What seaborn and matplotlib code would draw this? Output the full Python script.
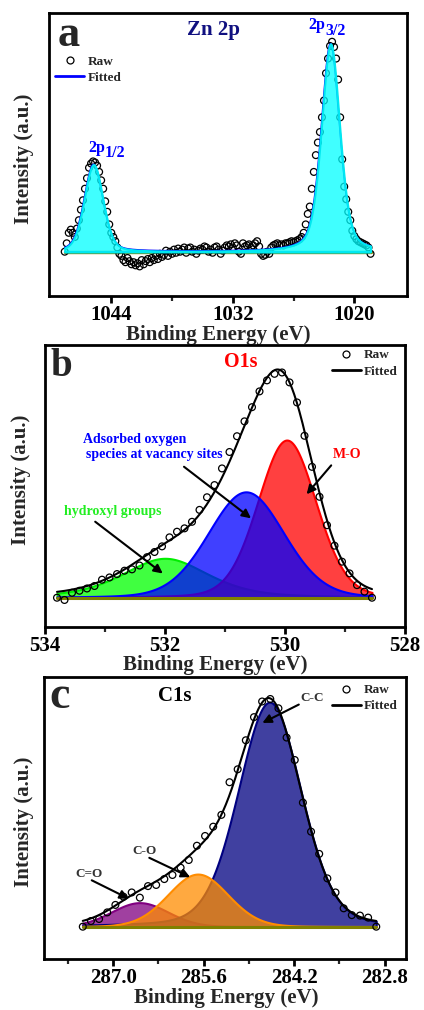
import numpy as np
import matplotlib
matplotlib.use("Agg")
import matplotlib.pyplot as plt
import seaborn as sns
from matplotlib.lines import Line2D

# ---------------- data ----------------
# Panel a : Zn 2p  (raw energies on a 0.2 eV grid, 1048.6 -> 1018.4 eV)
zn_raw_range = (1048.6, 1018.4)
zn_raw_y = [
    0.00, 0.04, 0.09, 0.105, 0.09, 0.07, 0.11, 0.15, 0.20, 0.245,
    0.30, 0.35, 0.40, 0.42, 0.43, 0.425, 0.41, 0.38, 0.34, 0.30,
    0.24, 0.19, 0.13, 0.09, 0.07, 0.05, 0.02, -0.01, -0.02, -0.04,
    -0.05, -0.03, -0.045, -0.06, -0.05, -0.065, -0.055, -0.07, -0.04, -0.06,
    -0.045, -0.035, -0.05, -0.03, -0.04, -0.02, -0.035, -0.01, -0.025, -0.015,
    0.005, -0.02, 0.00, -0.01, 0.01, -0.005, 0.015, 0.00, 0.01, 0.02,
    -0.005, 0.015, 0.02, 0.00, 0.01, -0.01, 0.005, 0.015, 0.01, 0.025,
    0.02, 0.00, 0.01, -0.005, 0.02, 0.025, 0.01, -0.01, 0.005, 0.02,
    0.03, 0.025, 0.035, 0.02, 0.04, 0.03, 0.00, -0.01, 0.04, 0.025,
    0.03, 0.035, 0.02, 0.03, 0.04, 0.05, 0.025, -0.01, -0.02, -0.015,
    0.00, -0.01, 0.02, 0.03, 0.035, 0.04, 0.03, 0.035, 0.03, 0.04,
    0.04, 0.045, 0.05, 0.045, 0.05, 0.055, 0.06, 0.07, 0.09, 0.13,
    0.18, 0.215, 0.30, 0.38, 0.46, 0.52, 0.57, 0.64, 0.72, 0.85,
    0.92, 0.98, 1.00, 0.975, 0.92, 0.82, 0.64, 0.44, 0.31, 0.25,
    0.19, 0.15, 0.10, 0.075, 0.06, 0.05, 0.045, 0.04, 0.035, 0.03,
    0.02, -0.01,
]
zn_peaks = ["2p1/2", "2p3/2"]
zn_center = [1045.75, 1022.35]
zn_height = [0.415, 0.99]
zn_fwhm = [2.2, 2.15]
zn_eta = [0.3, 0.4]
zn_major = [1044, 1032, 1020]
zn_minor = [1038, 1026]

# Panel b : O1s (raw energies evenly spaced 533.8 -> 528.55 eV)
o_raw_range = (533.8, 528.55)
o_raw_y = [
    0.0, -0.01, 0.022, 0.031, 0.041, 0.052, 0.08, 0.09, 0.105, 0.12,
    0.126, 0.143, 0.18, 0.203, 0.228, 0.268, 0.293, 0.308, 0.337, 0.39,
    0.446, 0.50, 0.574, 0.647, 0.717, 0.783, 0.846, 0.916, 0.965, 0.994,
    1.0, 0.956, 0.867, 0.719, 0.581, 0.448, 0.322, 0.231, 0.16, 0.108,
    0.056, 0.027, 0.0,
]
o_peaks = ["hydroxyl groups", "M-O", "Adsorbed oxygen"]
o_center = [532.0, 529.97, 530.65]
o_height = [0.175, 0.70, 0.47]
o_fwhm = [1.7, 1.15, 1.5]
o_eta = [0.5, 0.15, 0.15]
o_major = [534, 532, 530, 528]
o_minor = [533, 531, 529]

# Panel c : C1s (raw energies evenly spaced 287.47 -> 282.93 eV)
c_raw_range = (287.47, 282.93)
c_raw_y = [
    0.0, 0.025, 0.034, 0.063, 0.096, 0.132, 0.151, 0.128, 0.179, 0.184,
    0.21, 0.228, 0.26, 0.294, 0.357, 0.40, 0.441, 0.493, 0.637, 0.694,
    0.822, 0.924, 0.993, 1.004, 0.963, 0.834, 0.735, 0.547, 0.419, 0.321,
    0.213, 0.151, 0.081, 0.051, 0.049, 0.040, 0.0,
]
c_peaks = ["C=O", "C-C", "C-O"]
c_center = [286.59, 284.58, 285.69]
c_height = [0.106, 0.99, 0.232]
c_fwhm = [1.04, 1.15, 1.1]
c_eta = [0.1, 0.2, 0.1]
c_major = [287.0, 285.6, 284.2, 282.8]
c_minor = [287.7, 286.3, 284.9, 283.5]


def pseudo_voigt(x, c, h, w, eta):
    t = (x - c) / w
    g = np.exp(-4 * np.log(2) * t ** 2)
    l = 1.0 / (1.0 + 4 * t ** 2)
    return h * ((1 - eta) * g + eta * l)


# ---------------- style ----------------
sns.set_theme(style="ticks")
plt.rcParams["font.family"] = ["Liberation Serif", "DejaVu Serif"]
plt.rcParams["font.weight"] = "bold"
plt.rcParams["axes.labelweight"] = "bold"

SERIF = ["Liberation Serif", "DejaVu Serif"]

fig = plt.figure(figsize=(4.24, 10.10), dpi=100)
ax_a = fig.add_axes([49 / 424, 1 - 296 / 1010, 358 / 424, 283 / 1010])
ax_b = fig.add_axes([45 / 424, 1 - 627 / 1010, 360 / 424, 282 / 1010])
ax_c = fig.add_axes([44 / 424, 1 - 959 / 1010, 362 / 424, 282 / 1010])


def style_axis(ax, xlim, ylim, major, minor, fmt, ylab_xy, xlab_xy):
    ax.set_xlim(*xlim)
    ax.set_ylim(*ylim)
    ax.set_xticks(major)
    ax.set_xticks(minor, minor=True)
    ax.set_xticklabels([fmt.format(v) for v in major])
    ax.set_yticks([])
    for s in ax.spines.values():
        s.set_linewidth(2.0)
        s.set_color("black")
        s.set_visible(True)
    ax.tick_params(axis="x", which="major", direction="out", length=5, width=2,
                   pad=1.5, labelsize=15, colors="black")
    ax.tick_params(axis="x", which="minor", direction="out", length=3.5, width=1.6)
    for lab in ax.get_xticklabels():
        lab.set_fontweight("bold")
    ax.set_ylabel("Intensity (a.u.)", fontsize=15, fontweight="bold", va="center")
    ax.yaxis.set_label_coords(*ylab_xy)
    ax.set_xlabel("Binding Energy (eV)", fontsize=15, fontweight="bold", va="center")
    ax.xaxis.set_label_coords(*xlab_xy)
    ax.set_facecolor("white")


def raw_scatter(ax, x, y, z):
    sns.scatterplot(x=x, y=y, ax=ax, marker="o", s=24, facecolors="none",
                    edgecolors="black", linewidth=0.9, zorder=z, legend=False)


def legend(ax, line_color, anchor, loc):
    handles = [
        Line2D([], [], marker="o", ls="none", mfc="none", mec="black", ms=5, mew=0.9),
        Line2D([], [], color=line_color, lw=2),
    ]
    ax.legend(handles, ["Raw", "Fitted"], loc=loc, bbox_to_anchor=anchor,
              frameon=False, prop={"family": SERIF, "weight": "bold", "size": 9.5},
              handlelength=2.2, handletextpad=0.25, labelspacing=0.3,
              borderpad=0, borderaxespad=0)


# ---------------- panel a ----------------
ax = ax_a
xr = np.linspace(zn_raw_range[0], zn_raw_range[1], len(zn_raw_y))
xf = np.linspace(zn_raw_range[0], zn_raw_range[1], 800)
comps = [pseudo_voigt(xf, c, h, w, e) for c, h, w, e in zip(zn_center, zn_height, zn_fwhm, zn_eta)]
env = np.sum(comps, axis=0)
sns.lineplot(x=[xr[0], xr[-1]], y=[0, 0], ax=ax, color="#808000", lw=2.4, zorder=2)
raw_scatter(ax, xr, zn_raw_y, 3)
sns.lineplot(x=xf, y=env, ax=ax, color="blue", lw=1.2, zorder=3.5)
for comp in comps:
    ax.fill_between(xf, 0, comp, facecolor=(0, 1, 1, 0.75), edgecolor="#00e8f0",
                    lw=1.5, zorder=4)
style_axis(ax, (1050.15, 1014.8), (-0.211, 1.137), zn_major, zn_minor, "{:.0f}",
           (-0.0698, 0.484), (0.472, -0.137))
ax.text(0.025, 0.883, "a", transform=ax.transAxes, fontsize=32, fontweight="bold",
        family=SERIF, va="baseline", ha="left")
ax.text(0.459, 0.922, "Zn 2p", transform=ax.transAxes, fontsize=15, fontweight="bold",
        family=SERIF, color="#101080", va="baseline", ha="center")
ax.text(0.771, 0.943, "2p", transform=ax.transAxes, fontsize=11.5, fontweight="bold",
        family=SERIF, color="blue", va="baseline", ha="right")
ax.text(0.771, 0.923, "3/2", transform=ax.transAxes, fontsize=11.5, fontweight="bold",
        family=SERIF, color="blue", va="baseline", ha="left")
ax.text(0.156, 0.510, "2p", transform=ax.transAxes, fontsize=11.5, fontweight="bold",
        family=SERIF, color="blue", va="baseline", ha="right")
ax.text(0.156, 0.490, "1/2", transform=ax.transAxes, fontsize=11.5, fontweight="bold",
        family=SERIF, color="blue", va="baseline", ha="left")
legend(ax, "blue", (0.017, 0.85), "upper left")

# ---------------- panel b ----------------
ax = ax_b
xr = np.linspace(o_raw_range[0], o_raw_range[1], len(o_raw_y))
xf = np.linspace(o_raw_range[0], o_raw_range[1], 600)
comps = [pseudo_voigt(xf, c, h, w, e) for c, h, w, e in zip(o_center, o_height, o_fwhm, o_eta)]
env = np.sum(comps, axis=0)
o_fill = [(0, 1, 0, 0.75), (1, 0, 0, 0.75), (0, 0, 1, 0.75)]
o_edge = ["#00ee00", "red", "blue"]
for comp, fc, ec in zip(comps, o_fill, o_edge):
    ax.fill_between(xf, 0, comp, facecolor=fc, edgecolor=ec, lw=1.5, zorder=3)
sns.lineplot(x=[xr[0], xr[-1]], y=[0, 0], ax=ax, color="#808000", lw=2.2, zorder=4)
sns.lineplot(x=xf, y=env, ax=ax, color="black", lw=1.5, zorder=5)
raw_scatter(ax, xr, o_raw_y, 6)
style_axis(ax, (534, 528), (-0.130, 1.122), o_major, o_minor, "{:.0f}",
           (-0.0667, 0.521), (0.474, -0.133))
ax.text(0.014, 0.890, "b", transform=ax.transAxes, fontsize=28, fontweight="bold",
        family=SERIF, va="baseline", ha="left")
ax.text(0.543, 0.922, "O1s", transform=ax.transAxes, fontsize=14.5, fontweight="bold",
        family=SERIF, color="red", va="baseline", ha="center")
ax.text(533.37, 0.688, "Adsorbed oxygen", fontsize=10, fontweight="bold", family=SERIF,
        color="blue", va="baseline", ha="left")
ax.text(533.32, 0.619, "species at vacancy sites", fontsize=10, fontweight="bold",
        family=SERIF, color="blue", va="baseline", ha="left")
ax.text(533.69, 0.367, "hydroxyl groups", fontsize=10, fontweight="bold", family=SERIF,
        color="#22ee22", va="baseline", ha="left")
ax.text(529.2, 0.619, "M-O", fontsize=10, fontweight="bold", family=SERIF,
        color="red", va="baseline", ha="left")
arrow = dict(arrowstyle="-|>", color="black", lw=1.5, mutation_scale=13)
ax.annotate("", xy=(530.53, 0.345), xytext=(531.72, 0.589), arrowprops=arrow, zorder=7)
ax.annotate("", xy=(532.0, 0.10), xytext=(533.2, 0.345), arrowprops=arrow, zorder=7)
ax.annotate("", xy=(529.67, 0.45), xytext=(529.2, 0.597), arrowprops=arrow, zorder=7)
legend(ax, "black", (0.98, 0.985), "upper right")

# ---------------- panel c ----------------
ax = ax_c
xr = np.linspace(c_raw_range[0], c_raw_range[1], len(c_raw_y))
xf = np.linspace(c_raw_range[0], c_raw_range[1], 600)
comps = [pseudo_voigt(xf, c, h, w, e) for c, h, w, e in zip(c_center, c_height, c_fwhm, c_eta)]
env = np.sum(comps, axis=0)
c_fill = [(0.5, 0, 0.5, 0.75), (0, 0, 0.5, 0.75), (1, 0.55, 0, 0.75)]
c_edge = ["purple", "navy", "darkorange"]
for comp, fc, ec in zip(comps, c_fill, c_edge):
    ax.fill_between(xf, 0, comp, facecolor=fc, edgecolor=ec, lw=1.5, zorder=3)
sns.lineplot(x=[xr[0], xr[-1]], y=[0, 0], ax=ax, color="#808000", lw=2.2, zorder=4)
sns.lineplot(x=xf, y=env, ax=ax, color="black", lw=1.5, zorder=5)
raw_scatter(ax, xr, c_raw_y, 6)
style_axis(ax, (288.07, 282.47), (-0.1425, 1.101), c_major, c_minor, "{:.1f}",
           (-0.055, 0.488), (0.503, -0.139))
ax.text(0.014, 0.890, "c", transform=ax.transAxes, fontsize=33, fontweight="bold",
        family=SERIF, va="baseline", ha="left")
ax.text(0.36, 0.915, "C1s", transform=ax.transAxes, fontsize=15, fontweight="bold",
        family=SERIF, color="black", va="baseline", ha="center")
ax.text(284.11, 0.993, "C-C", fontsize=9.5, fontweight="bold", family=SERIF,
        color="#333333", va="baseline", ha="left")
ax.text(286.70, 0.319, "C-O", fontsize=9.5, fontweight="bold", family=SERIF,
        color="#333333", va="baseline", ha="left")
ax.text(287.59, 0.22, "C=O", fontsize=9.5, fontweight="bold", family=SERIF,
        color="#333333", va="baseline", ha="left")
ax.annotate("", xy=(284.73, 0.893), xytext=(284.09, 0.985), arrowprops=arrow, zorder=7)
ax.annotate("", xy=(285.77, 0.213), xytext=(286.48, 0.309), arrowprops=arrow, zorder=7)
ax.annotate("", xy=(286.72, 0.118), xytext=(287.37, 0.21), arrowprops=arrow, zorder=7)
legend(ax, "black", (0.978, 0.975), "upper right")

fig.savefig("out.png", dpi=100, facecolor="white")
